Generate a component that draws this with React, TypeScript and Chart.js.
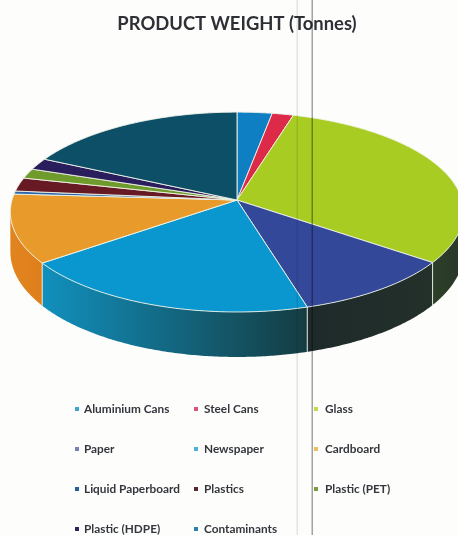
import React, { useEffect, useRef } from "react";
import { Chart, registerables } from "chart.js";

Chart.register(...registerables);

// Share of total product weight per stream
const categories = [
  "Aluminium Cans", "Steel Cans", "Glass", "Paper", "Newspaper", "Cardboard",
  "Liquid Paperboard", "Plastics", "Plastic (PET)", "Plastic (HDPE)", "Contaminants",
];
const weights = [2.8, 1.7, 30.5, 10.5, 19.3, 11.1, 0.5, 2.2, 1.6, 1.9, 17.8];
const topColors = [
  "#0f7fc4", "#dc2a48", "#a8cc22", "#34489a", "#0a97cf", "#e89a2a",
  "#2a66a8", "#681a24", "#6f9a2c", "#2a1d5c", "#0d4f66",
];
const sideStops = [
  ["#0b5a8a", "#0b5a8a"], ["#8a1a2c", "#8a1a2c"], ["#2e4028", "#26352a"],
  ["#1d2a2a", "#24302a"], ["#1190bd", "#153c42"], ["#e2841e", "#de7f1c"],
  ["#1a4a78", "#1a4a78"], ["#4a1218", "#4a1218"], ["#4d6c1e", "#4d6c1e"],
  ["#1c143f", "#1c143f"], ["#0a3647", "#0a3647"],
];
const legendColors = [
  "#3ea4d2", "#e0507a", "#c4da48", "#7583b4", "#4cb2d8", "#e8c060",
  "#22609a", "#5a2636", "#7c9c3c", "#262660", "#2a82a6",
];
const legendRows = [409, 449, 489, 529];
const legendMarkerX = [77, 196, 316];
const legendTextX = [84, 204, 325];

// Tilted-disc projection of the pie
const PERSPECTIVE = 0.12;
const TILT = 98.5;
const TAU = Math.PI * 2;

function project(cx: number, cy: number, r: number, theta: number) {
  const u = Math.sin(theta);
  const v = Math.cos(theta);
  const w = 1 + PERSPECTIVE * v;
  return { x: cx + (r * u) / w, y: cy - (TILT * v) / w, v };
}

function rimPoints(cx: number, cy: number, r: number, a: number, b: number) {
  const pts = [];
  const n = Math.max(2, Math.ceil((b - a) / 0.01));
  for (let i = 0; i <= n; i++) pts.push(project(cx, cy, r, a + ((b - a) * i) / n));
  return pts;
}

const sideDepth = (v: number) => 39 - 6 * v;

const tiltedPie = {
  id: "tiltedPie",
  beforeDatasetsDraw(chart: any) {
    const { ctx } = chart;
    const arcs = chart.getDatasetMeta(0).data;
    const { x: cx, y: cy, outerRadius: r } = arcs[0];
    const frontStart = Math.PI / 2 + Math.asin(PERSPECTIVE);
    const frontEnd = TAU - frontStart;
    const edge = "rgba(240,244,232,0.9)";

    // Outer wall, only the part that faces the viewer
    arcs.forEach((arc: any, i: number) => {
      const a = Math.max(arc.startAngle + Math.PI / 2, frontStart);
      const b = Math.min(arc.endAngle + Math.PI / 2, frontEnd);
      if (b <= a) return;
      const pts = rimPoints(cx, cy, r, a, b);
      const first = pts[0];
      const last = pts[pts.length - 1];
      const grad = ctx.createLinearGradient(last.x, 0, first.x, 0);
      grad.addColorStop(0, sideStops[i][0]);
      grad.addColorStop(1, sideStops[i][1]);
      ctx.beginPath();
      pts.forEach((p, k) => (k ? ctx.lineTo(p.x, p.y) : ctx.moveTo(p.x, p.y)));
      [...pts].reverse().forEach((p) => ctx.lineTo(p.x, p.y + sideDepth(p.v)));
      ctx.closePath();
      ctx.fillStyle = grad;
      ctx.fill();
    });

    // Vertical seams between wall segments
    ctx.strokeStyle = edge;
    ctx.lineWidth = 1;
    arcs.forEach((arc: any) => {
      const t = arc.endAngle + Math.PI / 2;
      if (t <= frontStart || t >= frontEnd) return;
      const p = project(cx, cy, r, t);
      ctx.beginPath();
      ctx.moveTo(p.x, p.y);
      ctx.lineTo(p.x, p.y + sideDepth(p.v));
      ctx.stroke();
    });

    // Top face
    arcs.forEach((arc: any, i: number) => {
      const pts = rimPoints(cx, cy, r, arc.startAngle + Math.PI / 2, arc.endAngle + Math.PI / 2);
      ctx.beginPath();
      ctx.moveTo(cx, cy);
      pts.forEach((p) => ctx.lineTo(p.x, p.y));
      ctx.closePath();
      ctx.fillStyle = topColors[i];
      ctx.fill();
      ctx.strokeStyle = edge;
      ctx.lineWidth = 1;
      ctx.lineJoin = "round";
      ctx.stroke();
    });
    return false;
  },
  afterDraw(chart: any) {
    const { ctx, height } = chart;

    // Legend grid, three columns
    ctx.textBaseline = "middle";
    ctx.textAlign = "left";
    ctx.font = "bold 11.8px Lato";
    categories.forEach((label, i) => {
      const col = i % 3;
      const y = legendRows[Math.floor(i / 3)];
      ctx.fillStyle = legendColors[i];
      ctx.fillRect(legendMarkerX[col] - 2, y - 2, 4, 4);
      ctx.fillStyle = "#33363c";
      ctx.fillText(label, legendTextX[col], y);
    });

    // Vertical creases running down the page
    ctx.save();
    ctx.globalCompositeOperation = "multiply";
    ctx.fillStyle = "#a2a3a6";
    ctx.fillRect(311.5, 0, 1.5, height);
    ctx.fillStyle = "#e4e4e6";
    ctx.fillRect(296.5, 0, 1.5, height);
    ctx.restore();
  },
};

export default function App() {
  const ref = useRef<HTMLCanvasElement | null>(null);
  useEffect(() => {
    const chart = new Chart(ref.current as HTMLCanvasElement, {
      type: "pie",
      data: {
        labels: categories,
        datasets: [{ data: weights, backgroundColor: topColors, borderWidth: 0 }],
      },
      options: {
        responsive: false,
        animation: false,
        radius: 225,
        layout: { padding: { left: 16, bottom: 178 } },
        plugins: {
          legend: { display: false },
          tooltip: { enabled: false },
          title: {
            display: true,
            text: "PRODUCT WEIGHT (Tonnes)",
            fullSize: false,
            color: "#2e3036",
            font: { family: "Lato", size: 18.4, weight: "bold" },
            padding: { top: 13, bottom: 8 },
          },
        },
      },
      plugins: [tiltedPie],
    } as any);
    return () => chart.destroy();
  }, []);
  return (
    <div style={{ position: "fixed", left: 0, top: 0, width: 458, height: 535, background: "#fdfdfc" }}>
      <canvas ref={ref} width={458} height={535} style={{ display: "block" }} />
    </div>
  );
}
